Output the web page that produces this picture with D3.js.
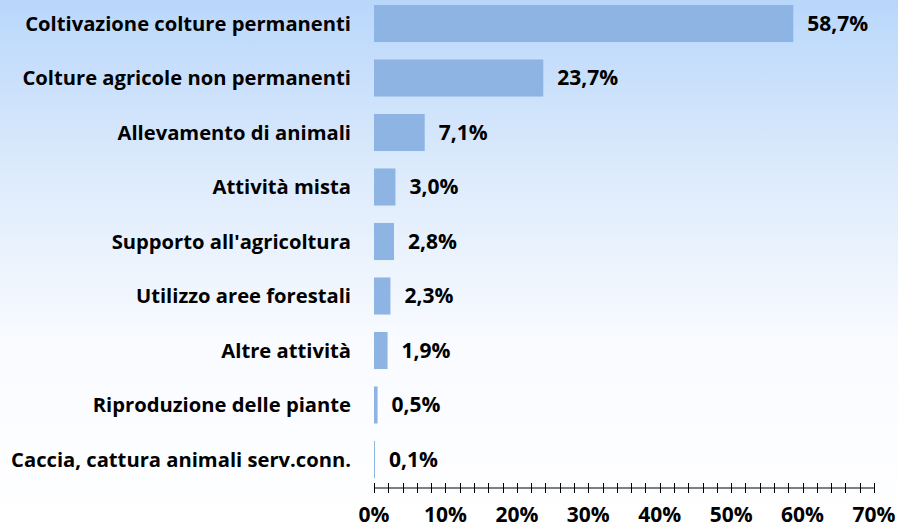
<!doctype html>
<head>
  <meta charset="utf-8">
  <title>Attività agricole</title>
  <script src="https://d3js.org/d3.v7.min.js"></script>
</head>
<style>
  body { margin: 0; }
  .lbl { font-family: "Open Sans", sans-serif; font-weight: bold; font-size: 20.2px; fill: #000; }
  .val { font-size: 21px; }
  .tl { font-size: 21px; }
</style>
<body>
<div id="chart"></div>
<script>
  // data
  var categories = ["Coltivazione colture permanenti", "Colture agricole non permanenti", "Allevamento di animali",
    "Attività mista", "Supporto all'agricoltura", "Utilizzo aree forestali", "Altre attività",
    "Riproduzione delle piante", "Caccia, cattura animali serv.conn."];
  var values = [58.7, 23.7, 7.1, 3.0, 2.8, 2.3, 1.9, 0.5, 0.1];
  var tickValues = [0, 10, 20, 30, 40, 50, 60, 70];

  var W = 898, H = 529;
  var svg = d3.select("#chart").append("svg")
      .attr("width", W).attr("height", H);

  // background gradient
  var grad = svg.append("defs").append("linearGradient")
      .attr("id", "bg").attr("x1", 0).attr("y1", 0).attr("x2", 0).attr("y2", 1);
  grad.append("stop").attr("offset", "0%").attr("stop-color", "#b9d7fb");
  grad.append("stop").attr("offset", "35%").attr("stop-color", "#dfecfc");
  grad.append("stop").attr("offset", "65%").attr("stop-color", "#f9fbff");
  grad.append("stop").attr("offset", "100%").attr("stop-color", "#ffffff");
  svg.append("rect").attr("width", W).attr("height", H).attr("fill", "url(#bg)");

  var x = d3.scaleLinear().domain([0, 70]).range([374, 874]);
  var y = d3.scaleBand().domain(categories).range([-3.75, 486.75]).paddingInner(0.32).paddingOuter(0.16);

  // bars
  svg.selectAll(".bar").data(values).enter().append("rect")
      .attr("x", x(0))
      .attr("y", function(d, i) { return y(categories[i]); })
      .attr("width", function(d) { return Math.max(1, x(d) - x(0)); })
      .attr("height", y.bandwidth())
      .attr("fill", "#8eb4e3");

  // value labels
  svg.selectAll(".val").data(values).enter().append("text")
      .attr("class", "lbl val")
      .attr("x", function(d) { return Math.max(x(d), x(0) + 1) + 14; })
      .attr("y", function(d, i) { return y(categories[i]) + y.bandwidth() / 2; })
      .attr("dy", "0.35em")
      .text(function(d) { return d.toFixed(1).replace(".", ",") + "%"; });

  // category labels
  svg.selectAll(".cat").data(categories).enter().append("text")
      .attr("class", "lbl")
      .attr("x", 351)
      .attr("y", function(d) { return y(d) + y.bandwidth() / 2; })
      .attr("dy", "0.35em")
      .attr("text-anchor", "end")
      .text(function(d) { return d; });

  // x axis with minor ticks every 2%
  var axisY = 488;
  var ax = svg.append("g").attr("transform", "translate(0," + axisY + ")");
  ax.append("line").attr("x1", x(0)).attr("x2", x(70)).attr("stroke", "#000").attr("stroke-width", 1);
  ax.selectAll(".mt").data(d3.range(0, 70.1, 2)).enter().append("line")
      .attr("x1", function(d) { return Math.round(x(d)) + 0.5; })
      .attr("x2", function(d) { return Math.round(x(d)) + 0.5; })
      .attr("y1", -5).attr("y2", 5)
      .attr("stroke", "#000").attr("stroke-width", 1);
  ax.selectAll(".tl").data(tickValues).enter().append("text")
      .attr("class", "lbl tl")
      .attr("x", function(d) { return x(d); })
      .attr("y", 27)
      .attr("dy", "0.35em")
      .attr("text-anchor", "middle")
      .text(function(d) { return d + "%"; });
</script>
</body>
